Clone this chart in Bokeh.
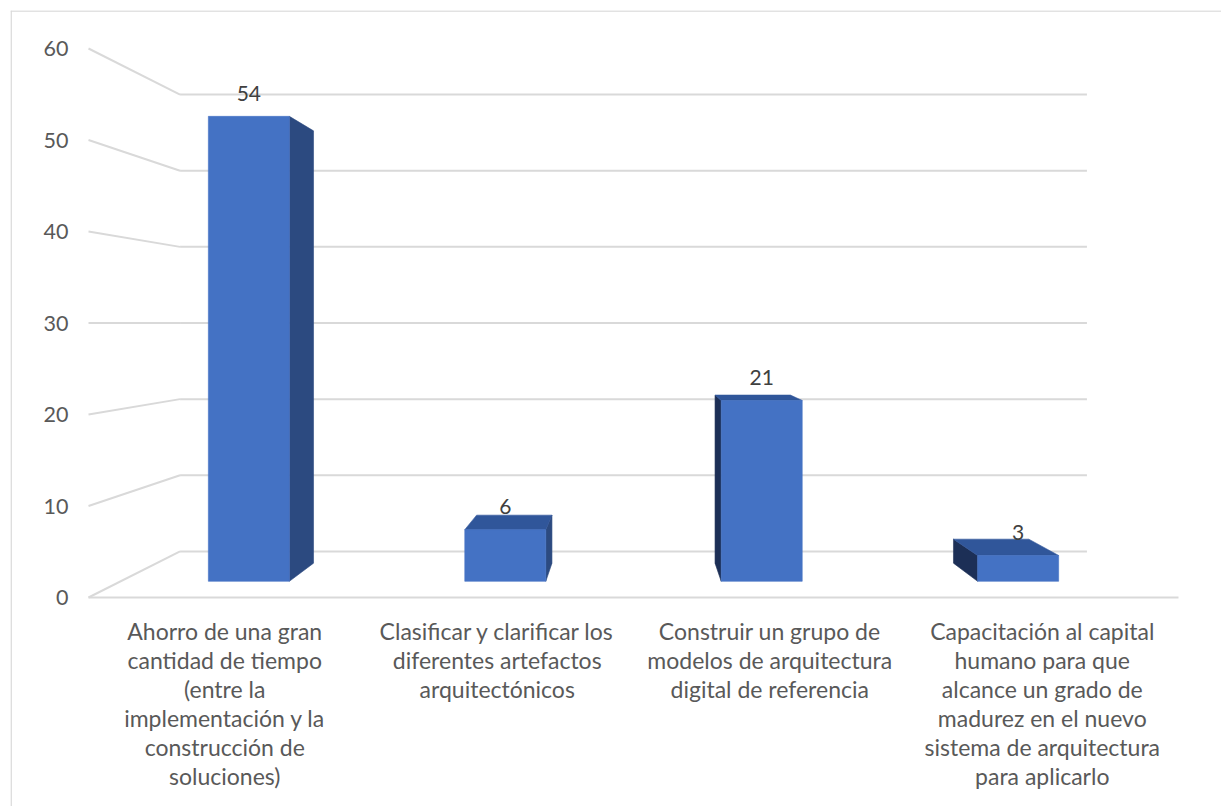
from bokeh.plotting import figure
from bokeh.models import Range1d, Span
from bokeh.core.properties import value
from bokeh.embed import file_html
from bokeh.resources import INLINE

# ---------------- data ----------------
categories = [
    "Ahorro de una gran\ncantidad de tiempo\n(entre la\nimplementación y la\nconstrucción de\nsoluciones)",
    "Clasificar y clarificar los\ndiferentes artefactos\narquitectónicos",
    "Construir un grupo de\nmodelos de arquitectura\ndigital de referencia",
    "Capacitación al capital\nhumano para que\nalcance un grado de\nmadurez en el nuevo\nsistema de arquitectura\npara aplicarlo",
]
values = [54, 6, 21, 3]
y_ticks = [0, 10, 20, 30, 40, 50, 60]
y_tick_labels = ["0", "10", "20", "30", "40", "50", "60"]

# ---------------- layout / style ----------------
W, H = 1221, 806
BORDER_L, BORDER_T = 10, 10
FRAME_W, FRAME_H = W - BORDER_L, H - BORDER_T
X0_PX, X_SCALE = 78, 272.5      # category 0 edge (front plane) in frame px, px per category
Y0_PX, Y_SCALE = 587, 9.15      # value 0 (front plane) from frame top, px per unit

N = len(categories)
Y_MAX = y_ticks[-1]
VPX, VPY = N / 2.0, Y_MAX / 2.0   # vanishing point (data units)
S_BACK_WALL = 0.832
S_BAR_FRONT, S_BAR_BACK = 0.941, 0.875
HALF_W = 0.158

GRID = "#D9D9D9"
FRONT = "#4472C4"
RIGHT_SIDE = "#2C4A80"
LEFT_SIDE = "#1C2F56"
TOP = "#30569A"
FONT = "Lato"


def proj(x, y, s):
    return VPX + (x - VPX) * s, VPY + (y - VPY) * s


x_start, x_end = -X0_PX / X_SCALE, (FRAME_W - X0_PX) / X_SCALE
y_start, y_end = -(FRAME_H - Y0_PX) / Y_SCALE, Y0_PX / Y_SCALE

p = figure(
    width=W, height=H,
    x_range=Range1d(x_start, x_end),
    y_range=Range1d(y_start, y_end),
    x_axis_type=None, y_axis_type=None,
    output_backend="svg", toolbar_location=None,
    min_border_left=BORDER_L, min_border_top=BORDER_T,
    min_border_right=0, min_border_bottom=0,
)
p.grid.visible = False
p.outline_line_color = None
p.background_fill_color = "white"
p.border_fill_color = "white"

# chart-area border (left and top edges visible in the reference)
p.add_layout(Span(location=x_start + 0.6 / X_SCALE, dimension="height",
                  line_color=GRID, line_width=1.5))
p.add_layout(Span(location=y_end - 0.6 / Y_SCALE, dimension="width",
                  line_color=GRID, line_width=1.5))

# ---------------- walls / gridlines ----------------
x0s, y0s, x1s, y1s = [], [], [], []
for t in y_ticks:
    a = proj(0, t, 1.0)
    b = proj(0, t, S_BACK_WALL)
    x0s.append(a[0]); y0s.append(a[1]); x1s.append(b[0]); y1s.append(b[1])
    c = proj(N, t, S_BACK_WALL)
    x0s.append(b[0]); y0s.append(b[1]); x1s.append(c[0]); y1s.append(c[1])
a = proj(0, 0, 1.0); b = proj(N, 0, 1.0)
x0s.append(a[0]); y0s.append(a[1]); x1s.append(b[0]); y1s.append(b[1])
p.segment(x0s, y0s, x1s, y1s, line_color=GRID, line_width=2)

# ---------------- 3D bars ----------------
xs, ys, cols = [], [], []
front_xs, front_ys = [], []
lab_x, lab_y, lab_t = [], [], []
for i, v in enumerate(values):
    cx = i + 0.5
    xl, xr = cx - HALF_W, cx + HALF_W
    sf, sb = S_BAR_FRONT, S_BAR_BACK
    if xr < VPX:
        pts = [proj(xr, 0, sf), proj(xr, 0, sb), proj(xr, v, sb), proj(xr, v, sf)]
        xs.append([q[0] for q in pts]); ys.append([q[1] for q in pts]); cols.append(RIGHT_SIDE)
    elif xl > VPX:
        pts = [proj(xl, 0, sf), proj(xl, 0, sb), proj(xl, v, sb), proj(xl, v, sf)]
        xs.append([q[0] for q in pts]); ys.append([q[1] for q in pts]); cols.append(LEFT_SIDE)
    if v < VPY:
        pts = [proj(xl, v, sf), proj(xr, v, sf), proj(xr, v, sb), proj(xl, v, sb)]
        xs.append([q[0] for q in pts]); ys.append([q[1] for q in pts]); cols.append(TOP)
    pts = [proj(xl, 0, sf), proj(xr, 0, sf), proj(xr, v, sf), proj(xl, v, sf)]
    front_xs.append([q[0] for q in pts]); front_ys.append([q[1] for q in pts])
    t = proj(cx, v, sf)
    lab_x.append(t[0]); lab_y.append(t[1]); lab_t.append(str(v))

p.patches(xs, ys, fill_color=cols, line_color=cols, line_width=0.6)
p.patches(front_xs, front_ys, fill_color=FRONT, line_color=FRONT, line_width=0.6)

# data labels
p.text(lab_x, lab_y, text=lab_t, text_font=value(FONT), text_font_size="21px",
       text_color="#404040", text_align="center", text_baseline="middle", y_offset=-23)

# value-axis tick labels (front plane, left)
p.text([0] * len(y_ticks), y_ticks, text=y_tick_labels, text_font=value(FONT),
       text_font_size="21.5px", text_color="#595959", text_align="right",
       text_baseline="middle", x_offset=-20)

# category labels (front plane, below)
p.text([i + 0.5 for i in range(N)], [0] * N, text=categories, text_font=value(FONT),
       text_font_size="23px", text_color="#595959", text_align="center",
       text_baseline="top", y_offset=19, text_line_height=1.04)

open("out.html", "w").write(file_html(p, INLINE))
